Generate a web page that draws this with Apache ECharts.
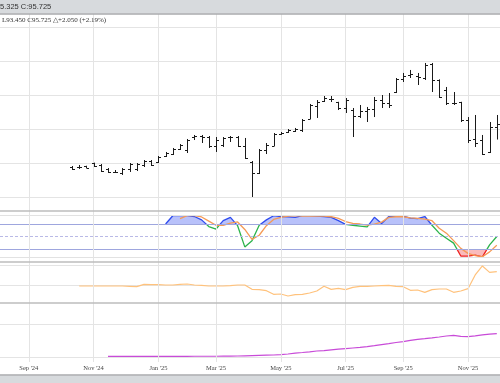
<!DOCTYPE html>
<html><head><meta charset="utf-8">
<script src="https://cdn.jsdelivr.net/npm/echarts@6/dist/echarts.min.js"></script>
<style>html,body{margin:0;padding:0;background:#fff;overflow:hidden}#c{width:500px;height:383px}</style>
</head><body><div id="c"></div><script>
// Weekly categories (Mondays)
const weeks = [
'2024-08-05','2024-08-12','2024-08-19','2024-08-26',
'2024-09-02','2024-09-09','2024-09-16','2024-09-23','2024-09-30',
'2024-10-07','2024-10-14','2024-10-21','2024-10-28',
'2024-11-04','2024-11-11','2024-11-18','2024-11-25',
'2024-12-02','2024-12-09','2024-12-16','2024-12-23','2024-12-30',
'2025-01-06','2025-01-13','2025-01-20','2025-01-27',
'2025-02-03','2025-02-10','2025-02-17','2025-02-24',
'2025-03-03','2025-03-10','2025-03-17','2025-03-24','2025-03-31',
'2025-04-07','2025-04-14','2025-04-21','2025-04-28',
'2025-05-05','2025-05-12','2025-05-19','2025-05-26',
'2025-06-02','2025-06-09','2025-06-16','2025-06-23','2025-06-30',
'2025-07-07','2025-07-14','2025-07-21','2025-07-28',
'2025-08-04','2025-08-11','2025-08-18','2025-08-25',
'2025-09-01','2025-09-08','2025-09-15','2025-09-22','2025-09-29',
'2025-10-06','2025-10-13','2025-10-20','2025-10-27',
'2025-11-03','2025-11-10','2025-11-17','2025-11-24',
'2025-12-01','2025-12-08','2025-12-15'];

const labelWeeks = ['2024-09-02','2024-11-04','2025-01-06','2025-03-03','2025-05-05','2025-07-07','2025-09-01','2025-11-03'];
const labelTexts = ["Sep '24","Nov '24","Jan '25","Mar '25","May '25","Jul '25","Sep '25","Nov '25"];

// Weekly OHLC bars starting 2024-10-14
const barStart = '2024-10-14';
const openVals = [89.41,89.41,89.56,90.00,89.71,89.12,88.68,88.53,89.12,89.12,89.71,90.29,90.15,91.03,91.32,92.06,91.91,93.82,93.97,93.82,
92.50,92.65,93.82,93.82,92.50,90.15,88.53,91.91,92.50,94.26,94.56,94.71,94.85,96.47,98.38,99.12,99.41,98.97,98.09,97.79,
96.91,97.65,97.94,99.26,98.82,100.44,102.35,102.94,102.79,102.50,104.56,102.21,100.74,98.82,98.97,96.32,93.53,93.38,91.62,95.30];
const highVals = [89.56,89.71,89.60,90.05,89.85,89.26,88.97,89.26,90.00,90.00,90.44,90.44,91.03,91.62,92.21,92.79,93.53,94.12,94.12,93.97,
93.82,93.82,93.97,93.97,93.68,90.29,92.06,92.94,94.41,94.56,95.00,95.15,96.47,98.68,99.26,99.85,99.85,99.00,99.56,98.09,
98.53,98.24,99.71,100.00,100.29,102.50,103.24,103.68,103.24,104.71,104.71,102.30,101.18,100.44,99.00,96.76,97.06,94.12,96.03,97.06];
const lowVals = [88.97,89.12,89.26,89.41,88.68,88.53,88.53,88.24,88.68,88.82,89.41,89.56,90.00,90.88,91.18,91.91,91.47,93.38,92.94,92.21,
91.62,92.35,93.09,92.35,90.59,85.00,88.38,91.32,92.50,94.12,94.41,94.56,94.56,96.47,96.62,98.97,98.97,97.79,97.35,93.82,
96.62,96.03,96.76,98.09,98.09,100.29,101.91,102.50,101.47,102.21,100.44,99.56,98.53,98.53,96.03,92.94,92.35,91.18,91.47,93.45];
const closeVals = [89.12,89.35,89.30,89.56,88.82,88.68,88.62,89.12,89.85,89.85,90.29,89.71,90.88,91.47,92.06,92.65,93.38,93.97,93.82,92.50,
93.38,93.68,93.82,92.50,90.74,88.53,91.91,92.65,94.26,94.41,94.85,95.00,96.32,98.53,98.97,99.56,99.41,98.09,99.26,96.91,
97.65,97.94,99.26,98.82,98.53,102.35,102.79,103.09,102.65,104.41,102.21,99.71,98.82,98.82,96.32,93.38,92.94,91.32,95.30,95.725];

// Stochastic %K and %D
const kStart = '2025-01-13';
const stochK = [80,100,100,100,98,90,74,68,88,96,76,25,40,77,90,100,98,97,96,100,100,99,98,96,88,79,77,75,73,96,81,98,99,99,94,93,98,77,58,46,34,3,3,5,1,30,50];
const dStart = '2025-01-27';
const stochD = [93,100,100,97,87,77,77,82,85,67,43,53,76,91,96,99,100,99,99,99,99,97.5,93.5,86,81.5,80,77.5,80,84.5,96,97.5,97.5,95,93.5,92,88,70,58,40,21.5,9.5,4,1.5,13,29];

// Orange oscillator
const oscStart = '2024-10-21';
const oscVals = [-0.14,-0.14,-0.14,-0.14,-0.14,-0.14,-0.14,-0.3,-0.47,0.66,0.5,0.5,0.34,0.34,0.66,0.82,0.34,0.18,-0.14,-0.14,
-0.14,0.02,0.34,0.34,-1.76,-1.92,-2.4,-4.17,-4.01,-4.98,-4.33,-4.17,-3.53,-2.56,-0.3,-1.76,-1.27,-1.92,-0.79,-0.3,
-0.3,-0.14,0.02,0.18,-0.3,-0.47,-2.24,-2.08,-3.2,-1.92,-1.59,-1.59,-3.2,-2.56,-1.43,5.17,9.52,6.46,6.78];

// Purple line
const purpleStart = '2024-11-18';
const purpleVals = [0.2,0.2,0.2,0.2,0.2,0.2,0.2,0.2,0.2,0.2,0.2,0.2,0.22,0.22,0.22,0.22,0.25,0.27,0.3,0.36,
0.42,0.48,0.55,0.61,0.73,0.91,1.15,1.36,1.58,1.82,1.94,2.15,2.36,2.55,2.73,2.91,3.12,3.42,3.76,4.06,
4.39,4.64,5.06,5.36,5.55,5.79,6.06,6.36,6.58,6.27,6.15,6.42,6.7,6.91,7.09];

function pad(start, arr){
  const i = weeks.indexOf(start);
  const out = weeks.map(()=>null);
  arr.forEach((v,j)=>{ out[i+j] = v; });
  return out;
}
const b0 = weeks.indexOf(barStart);
const ohlcData = openVals.map((o,j)=>[b0+j, o, highVals[j], lowVals[j], closeVals[j]]);

const GRID_L = 0, GRID_W = 511.2;
const gridLight = '#e4e4e4';

function mkGrid(top, height){ return {left:GRID_L, width:GRID_W, top:top, height:height, outerBoundsMode:'none', containLabel:false}; }
const grids = [
  mkGrid(14, 348),     // background verticals
  mkGrid(27, 170),     // price
  mkGrid(215.7, 41.6), // stochastic
  mkGrid(215.7, 8.32), // stoch upper fill
  mkGrid(249, 8.32),   // stoch lower fill
  mkGrid(265, 20.7),   // orange oscillator
  mkGrid(324, 33)      // purple
];
const xAxes = grids.map((g,i)=>({
  type:'category', gridIndex:i, data:weeks, boundaryGap:false,
  axisLine:{show:false}, axisTick:{show:false},
  axisLabel:{show: i===6, interval:(idx,val)=>labelWeeks.indexOf(val)>=0,
    formatter:(val)=>labelTexts[labelWeeks.indexOf(val)],
    fontFamily:'Liberation Serif', fontSize:6.5, color:'#444', margin:8},
  splitLine:{show:false}
}));
function yAx(i, min, max, interval, split){
  const o = {type:'value', gridIndex:i, min:min, max:max, axisLine:{show:false}, axisTick:{show:false}, axisLabel:{show:false},
    splitLine:{show:!!split, lineStyle:{color:gridLight, width:1}}};
  if (interval) o.interval = interval;
  return o;
}
const yAxes = [
  yAx(0,0,1,null,false),
  yAx(1,85,110,5,true),
  yAx(2,0,100,null,false),
  yAx(3,80,100,null,false),
  yAx(4,0,20,null,false),
  yAx(5,0,10,10,true),
  yAx(6,0,10,10,true)
];

const kData = pad(kStart, stochK);
const dData = pad(dStart, stochD);

const option = {
  animation:false,
  backgroundColor:'#ffffff',
  grid: grids, xAxis: xAxes, yAxis: yAxes,
  visualMap: [{type:'piecewise', show:false, seriesIndex:2, dimension:1,
    pieces:[{gt:80, color:'#2f4cf0'},{gte:20, lte:80, color:'#2bb34b'},{lt:20, color:'#ee2020'}]}],
  series: [
    {type:'custom', xAxisIndex:1, yAxisIndex:1, data: ohlcData, encode:{x:0, y:[1,2,3,4]}, z:5,
     renderItem:function(params, api){
       const xi = api.value(0);
       const o = api.coord([xi, api.value(1)]);
       const h = api.coord([xi, api.value(2)]);
       const l = api.coord([xi, api.value(3)]);
       const c = api.coord([xi, api.value(4)]);
       const x = Math.round(h[0]) + 0.5;
       const st = {stroke:'#1a1a1a', lineWidth:1};
       return {type:'group', children:[
         {type:'line', shape:{x1:x, y1:h[1], x2:x, y2:l[1]}, style:st},
         {type:'line', shape:{x1:x-2.5, y1:Math.round(o[1])+0.5, x2:x, y2:Math.round(o[1])+0.5}, style:st},
         {type:'line', shape:{x1:x, y1:Math.round(c[1])+0.5, x2:x+2.5, y2:Math.round(c[1])+0.5}, style:st}
       ]};
     }},
    {type:'line', name:'%D', xAxisIndex:2, yAxisIndex:2, data:dData, showSymbol:false, z:4,
     lineStyle:{color:'#f59a55', width:1.3}, itemStyle:{color:'#f59a55'},
     markLine:{silent:true, symbol:'none', label:{show:false}, animation:false,
       data:[
         {yAxis:100, lineStyle:{color:'#e2e2e2', type:'solid', width:1}},
         {yAxis:80, lineStyle:{color:'#9ea6de', type:'solid', width:1}},
         {yAxis:50, lineStyle:{color:'#b9b9e6', type:[3,2], width:1}},
         {yAxis:20, lineStyle:{color:'#9ea6de', type:'solid', width:1}},
         {yAxis:0, lineStyle:{color:'#e2e2e2', type:'solid', width:1}}
       ]}},
    {type:'line', name:'%K', xAxisIndex:2, yAxisIndex:2, data:kData, showSymbol:false, z:3,
     lineStyle:{width:1.3}},
    {type:'line', xAxisIndex:3, yAxisIndex:3, data:kData, showSymbol:false, z:1, clip:true,
     lineStyle:{width:0.01, opacity:0}, areaStyle:{origin:'start', color:'rgba(55,80,240,0.5)'}},
    {type:'line', xAxisIndex:4, yAxisIndex:4, data:kData, showSymbol:false, z:1, clip:true,
     lineStyle:{width:0.01, opacity:0}, areaStyle:{origin:'end', color:'rgba(240,50,50,0.48)'}},
    {type:'line', xAxisIndex:5, yAxisIndex:5, data:pad(oscStart, oscVals), showSymbol:false, clip:false, z:3,
     lineStyle:{color:'#ffc27c', width:1.2}},
    {type:'line', xAxisIndex:6, yAxisIndex:6, data:pad(purpleStart, purpleVals), showSymbol:false, clip:false, z:3,
     lineStyle:{color:'#c84bd8', width:1.2}},
    {type:'line', xAxisIndex:0, yAxisIndex:0, data:weeks.map(()=>null), showSymbol:false, z:0, silent:true,
     markLine:{silent:true, symbol:'none', label:{show:false}, animation:false,
       lineStyle:{color:gridLight, type:'solid', width:1},
       data: labelWeeks.map(w=>({xAxis:w}))}}
  ],
  graphic: [
    {type:'rect', shape:{x:0, y:0, width:500, height:13.5}, style:{fill:'#d7dadd'}, z:100, silent:true},
    {type:'line', shape:{x1:0, y1:14, x2:500, y2:14}, style:{stroke:'#a8aaad', lineWidth:1.5}, z:100, silent:true},
    {type:'text', x:0, y:7, style:{text:'5.325 C:95.725', fill:'#333', font:'7.5px "Liberation Sans"', verticalAlign:'middle'}, z:101, silent:true},
    {type:'text', x:2, y:20, style:{text:'L93.450 C95.725 \u25B3+2.050 (+2.19%)', fill:'#333', font:'7px "Liberation Serif"', verticalAlign:'middle'}, z:101, silent:true},
    {type:'line', shape:{x1:0, y1:211, x2:500, y2:211}, style:{stroke:'#bdbdbd', lineWidth:1.5}, z:100, silent:true},
    {type:'line', shape:{x1:0, y1:262, x2:500, y2:262}, style:{stroke:'#bdbdbd', lineWidth:1.5}, z:100, silent:true},
    {type:'line', shape:{x1:0, y1:303, x2:500, y2:303}, style:{stroke:'#bdbdbd', lineWidth:1.5}, z:100, silent:true},
    {type:'rect', shape:{x:0, y:375.5, width:500, height:8}, style:{fill:'#d7dadd'}, z:100, silent:true},
    {type:'line', shape:{x1:0, y1:375, x2:500, y2:375}, style:{stroke:'#a8aaad', lineWidth:1.5}, z:100, silent:true}
  ]
};
const chart = echarts.init(document.getElementById('c'), null, {renderer:'canvas'});
chart.setOption(option);
</script></body></html>
